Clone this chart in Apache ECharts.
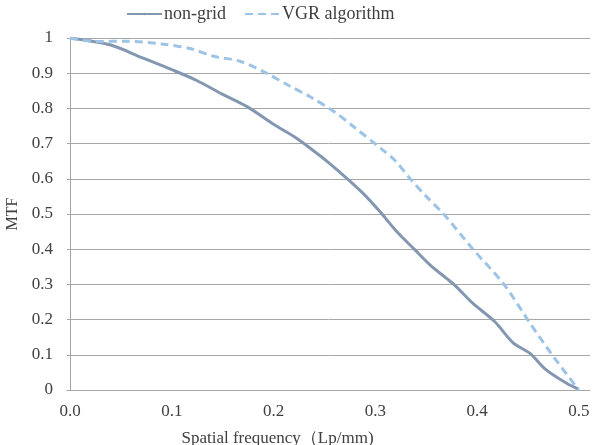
<!DOCTYPE html>
<html><head><meta charset="utf-8">
<script src="https://cdn.jsdelivr.net/npm/echarts@6/dist/echarts.min.js"></script>
<style>html,body{margin:0;padding:0;background:#fff}#c{width:611px;height:445px}</style>
</head><body><div id="c"></div>
<script>
const xTicks = [0, 0.1, 0.2, 0.3, 0.4, 0.5];
const nonGridX = [0, 0.04, 0.07, 0.1, 0.124, 0.15, 0.174, 0.2, 0.22, 0.236, 0.255, 0.2865, 0.3045, 0.321, 0.339, 0.354, 0.37, 0.378, 0.396, 0.4175, 0.4355, 0.452, 0.468, 0.488, 0.5];
const nonGridY = [1, 0.98, 0.945, 0.91, 0.88, 0.84, 0.805, 0.755, 0.72, 0.687, 0.644, 0.563, 0.507, 0.45, 0.398, 0.355, 0.317, 0.298, 0.246, 0.194, 0.134, 0.104, 0.057, 0.019, 0.002];
const vgrX = [0, 0.026, 0.056, 0.09, 0.118, 0.141, 0.167, 0.193, 0.215, 0.236, 0.26, 0.28, 0.306, 0.32, 0.334, 0.35, 0.368, 0.396, 0.427, 0.452, 0.475, 0.5];
const vgrY = [1, 0.99, 0.991, 0.983, 0.97, 0.948, 0.934, 0.9, 0.865, 0.833, 0.79, 0.745, 0.685, 0.65, 0.601, 0.55, 0.497, 0.4, 0.298, 0.19, 0.095, 0.0];

const font = '"Liberation Serif", "DejaVu Serif", serif';
const chart = echarts.init(document.getElementById('c'));
chart.setOption({
  animation: false,
  legend: {
    top: 0, left: 121, itemWidth: 35, itemHeight: 3, itemGap: 18,
    textStyle: {fontFamily: font, fontSize: 18, color: '#404040', padding: [0, 0, 0, -3]},
    data: ['non-grid', 'VGR algorithm']
  },
  grid: {left: 67, right: 21, top: 38, bottom: 55, containLabel: false, outerBoundsMode: 'none'},
  xAxis: {
    type: 'value', min: -0.003, max: 0.511,
    name: 'Spatial frequency（Lp/mm)', nameLocation: 'middle', nameGap: 40,
    nameTextStyle: {fontFamily: font, fontSize: 17, color: '#404040', padding: [0, 102, 0, 0]},
    axisLine: {show: true, lineStyle: {color: '#a6a6a6', width: 1}},
    axisTick: {show: false},
    splitLine: {show: false},
    axisLabel: {
      customValues: xTicks, showMinLabel: true, showMaxLabel: true,
      formatter: v => v.toFixed(1),
      fontFamily: font, fontSize: 17, color: '#404040', margin: 13
    }
  },
  yAxis: {
    type: 'value', min: 0, max: 1, interval: 0.1,
    name: 'MTF', nameLocation: 'middle', nameGap: 46,
    nameTextStyle: {fontFamily: font, fontSize: 16, color: '#404040'},
    axisLine: {show: true, lineStyle: {color: '#a6a6a6', width: 1}},
    axisTick: {show: false},
    splitLine: {show: true, lineStyle: {color: '#a6a6a6', width: 1}},
    axisLabel: {
      formatter: v => String(+v.toFixed(1)),
      fontFamily: font, fontSize: 17, color: '#404040', margin: 14
    }
  },
  series: [
    {
      name: 'non-grid', type: 'line', smooth: 0.3, symbol: 'none',
      data: nonGridX.map((x, i) => [x, nonGridY[i]]),
      lineStyle: {color: '#8497b0', width: 3},
      itemStyle: {color: '#8497b0'}
    },
    {
      name: 'VGR algorithm', type: 'line', smooth: 0.3, symbol: 'none',
      data: vgrX.map((x, i) => [x, vgrY[i]]),
      lineStyle: {color: '#9dc3e6', width: 3, type: [8, 5]},
      itemStyle: {color: '#9dc3e6'}
    }
  ]
});
</script></body></html>
